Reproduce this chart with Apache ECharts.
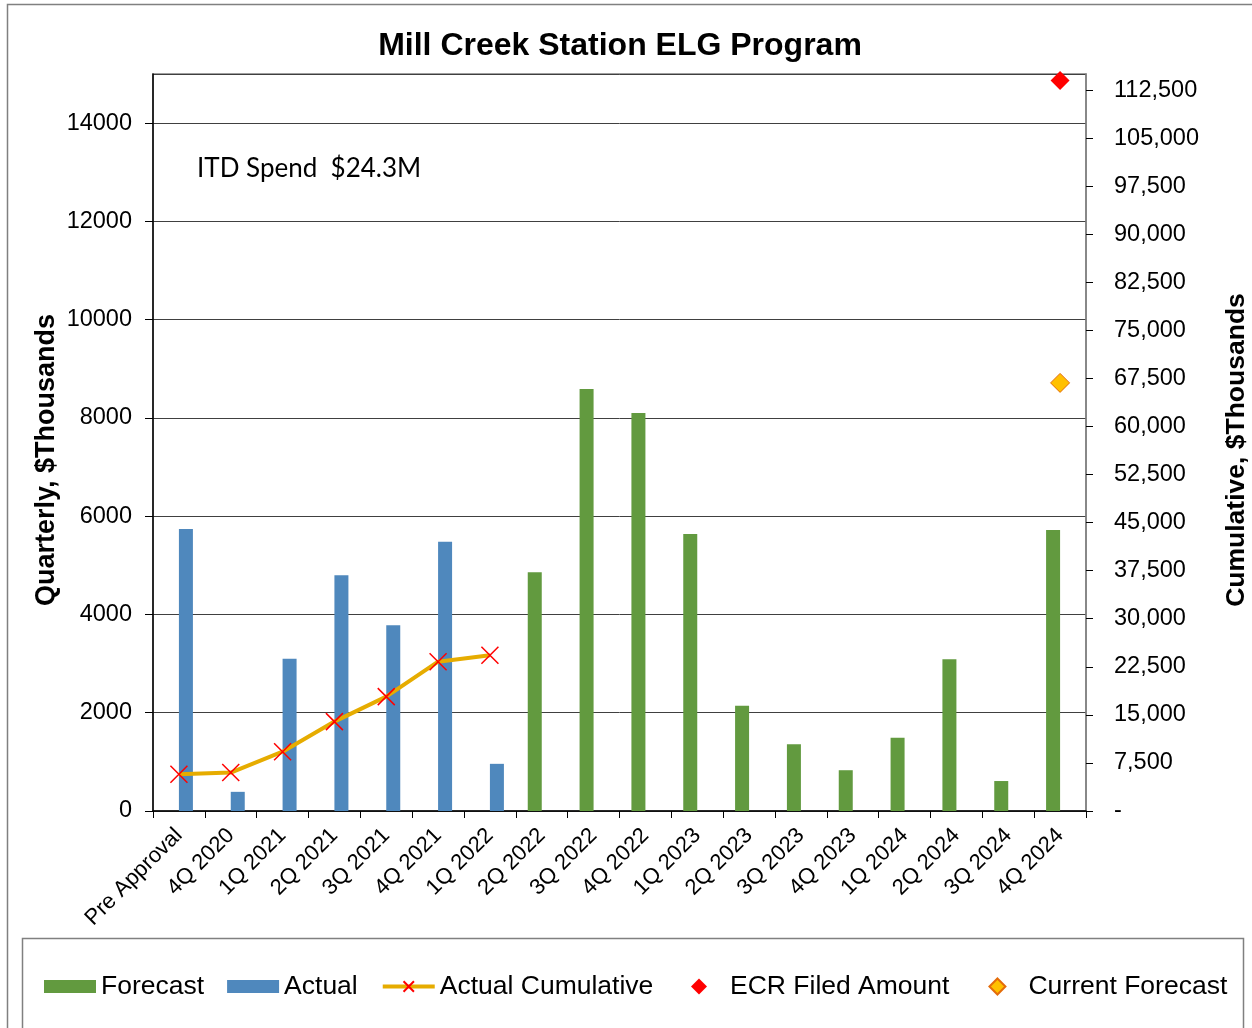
<!DOCTYPE html>
<html>
<head>
<meta charset="utf-8">
<script src="https://cdn.jsdelivr.net/npm/echarts@6/dist/echarts.min.js"></script>
<style>
    html, body { margin: 0; padding: 0; background: #fff; }
    #chart { width: 1252px; height: 1028px; }
</style>
</head>
<body>
<div id="chart"></div>
<script>
// 图表数据
var categories = ['Pre Approval', '4Q 2020', '1Q 2021', '2Q 2021', '3Q 2021', '4Q 2021', '1Q 2022',
    '2Q 2022', '3Q 2022', '4Q 2022', '1Q 2023', '2Q 2023', '3Q 2023', '4Q 2023',
    '1Q 2024', '2Q 2024', '3Q 2024', '4Q 2024'];

var actual = [5740, 390, 3100, 4800, 3780, 5480, 960,
    null, null, null, null, null, null, null, null, null, null, null];

var forecast = [null, null, null, null, null, null, null,
    4860, 8590, 8100, 5640, 2140, 1360, 830, 1490, 3090, 610, 5720];

var actual_cumulative = [5740, 6000, 9250, 13950, 17850, 23300, 24300];

var ecr_filed = [['4Q 2024', 114000]];
var current_forecast = [['4Q 2024', 66800]];

var left_ticks = {min: 0, max: 15000, interval: 2000};
var right_ticks = {min: 0, max: 115000, interval: 7500};

var font = '"Liberation Sans", Arial, sans-serif';
var diamond_icon = 'path://M0,-1L1,0L0,1L-1,0Z';
var legend_text = {fontSize: 26.5, fontFamily: font, color: '#000'};

var myChart = echarts.init(document.getElementById('chart'));

option = {
    backgroundColor: '#fff',
    animation: false,
    graphic: [
        // 外框
        {type: 'rect', shape: {x: 7.5, y: 4.5, width: 1270, height: 1050},
            style: {fill: 'none', stroke: '#808080', lineWidth: 1.5}, silent: true},
        // 图例框
        {type: 'rect', shape: {x: 22.5, y: 938.5, width: 1221, height: 120},
            style: {fill: 'none', stroke: '#808080', lineWidth: 1.5}, silent: true},
        {type: 'text', x: 620, y: 46,
            style: {text: 'Mill Creek Station ELG Program', font: 'bold 32px ' + font,
                fill: '#000', textAlign: 'center', textVerticalAlign: 'middle'}},
        {type: 'text', x: 197, y: 169,
            style: {text: 'ITD Spend  $24.3M', font: '26px Lato, "Open Sans", sans-serif',
                fill: '#000', textAlign: 'left', textVerticalAlign: 'middle'}},
        {type: 'text', x: 47, y: 460, rotation: Math.PI / 2,
            style: {text: 'Quarterly, $Thousands', font: 'bold 27px ' + font,
                fill: '#000', textAlign: 'center', textVerticalAlign: 'middle'}},
        {type: 'text', x: 1237, y: 450, rotation: Math.PI / 2,
            style: {text: 'Cumulative, $Thousands', font: 'bold 26.5px ' + font,
                fill: '#000', textAlign: 'center', textVerticalAlign: 'middle'}}
    ],
    legend: [
        {
            left: 44,
            top: 973,
            padding: 0,
            itemWidth: 52,
            itemHeight: 13,
            itemGap: 23,
            textStyle: legend_text,
            data: [
                {name: 'Forecast', icon: 'rect'},
                {name: 'Actual', icon: 'rect'},
                {name: 'Actual Cumulative', lineStyle: {width: 4}}
            ]
        },
        {
            left: 691,
            top: 973,
            padding: 0,
            itemWidth: 52,
            itemHeight: 16,
            itemGap: 39,
            symbolKeepAspect: true,
            textStyle: legend_text,
            data: [
                {name: 'ECR Filed Amount', icon: diamond_icon},
                {name: 'Current Forecast', icon: diamond_icon}
            ]
        }
    ],
    grid: {
        left: 153,
        right: 166,
        top: 74,
        bottom: 217,
        show: true,
        borderColor: '#808080',
        borderWidth: 1.5
    },
    xAxis: {
        type: 'category',
        data: categories,
        axisLine: {lineStyle: {color: '#000', width: 1.5}},
        axisTick: {show: true, interval: 0, length: 7, lineStyle: {color: '#000'}},
        axisLabel: {
            interval: 0, rotate: 45, fontSize: 22, fontFamily: font, color: '#000', margin: 21
        }
    },
    yAxis: [
        {
            type: 'value',
            min: left_ticks.min,
            max: left_ticks.max,
            interval: left_ticks.interval,
            axisLine: {show: true, lineStyle: {color: '#000', width: 1.5}},
            axisTick: {show: true, length: 8, lineStyle: {color: '#000'}},
            axisLabel: {
                fontSize: 23.5, fontFamily: font, color: '#000', margin: 21, showMaxLabel: false,
                formatter: function (v) {
                    return String(v);
                }
            },
            splitLine: {show: true, lineStyle: {color: '#404040', width: 1}}
        },
        {
            type: 'value',
            position: 'right',
            min: right_ticks.min,
            max: right_ticks.max,
            interval: right_ticks.interval,
            alignTicks: false,
            axisLine: {show: true, lineStyle: {color: '#808080', width: 1.5}},
            axisTick: {show: true, length: 7, lineStyle: {color: '#000'}},
            axisLabel: {
                fontSize: 23.5, fontFamily: font, color: '#000', margin: 28, showMaxLabel: false,
                formatter: function (v) {
                    if (v === 0) return '-';
                    return v.toLocaleString('en-US');
                }
            },
            splitLine: {show: false}
        }
    ],
    series: [
        {
            name: 'Forecast',
            type: 'bar',
            data: forecast,
            barWidth: 14,
            barGap: '0%',
            itemStyle: {color: '#629a3f'}
        },
        {
            name: 'Actual',
            type: 'bar',
            data: actual,
            barWidth: 14,
            barGap: '0%',
            itemStyle: {color: '#4f88bd'}
        },
        {
            name: 'Actual Cumulative',
            type: 'line',
            yAxisIndex: 1,
            data: actual_cumulative,
            symbol: 'path://M0,0L16,16M16,0L0,16',
            symbolSize: 17,
            showAllSymbol: true,
            lineStyle: {color: '#e6ac00', width: 4},
            itemStyle: {color: 'none', borderColor: '#ff0000', borderWidth: 1.5},
            z: 5
        },
        {
            name: 'ECR Filed Amount',
            type: 'scatter',
            yAxisIndex: 1,
            data: ecr_filed,
            symbol: 'diamond',
            symbolSize: 19,
            itemStyle: {color: '#ff0000', opacity: 1},
            z: 6
        },
        {
            name: 'Current Forecast',
            type: 'scatter',
            yAxisIndex: 1,
            data: current_forecast,
            symbol: 'diamond',
            symbolSize: 19,
            itemStyle: {color: '#ffc000', borderColor: '#e46c0a', borderWidth: 1, opacity: 1},
            z: 6
        }
    ]
};

myChart.setOption(option);
</script>
</body>
</html>
